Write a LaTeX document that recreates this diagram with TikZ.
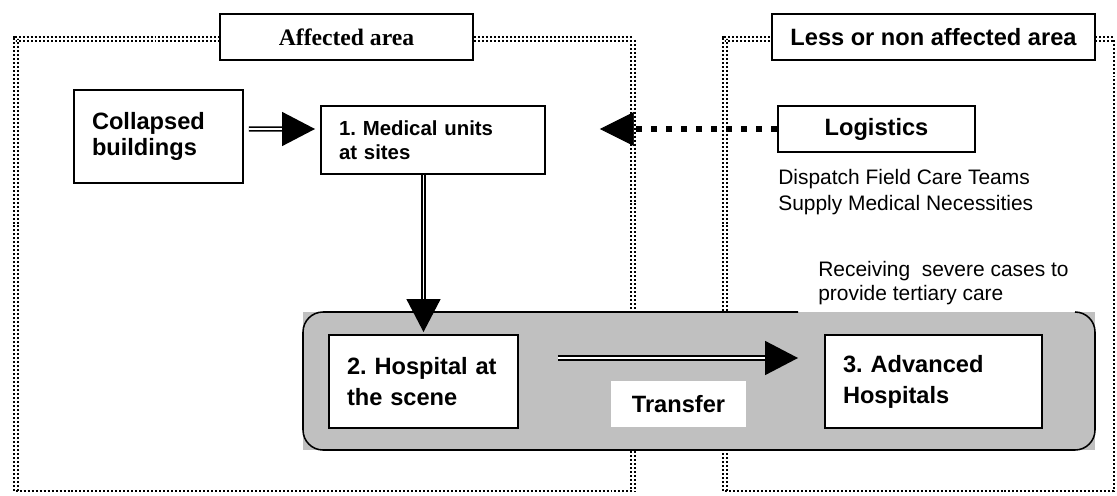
\documentclass[tikz,border=0pt]{standalone}
\usepackage{fontspec}
\setmainfont{Liberation Sans}
\newfontfamily\timesbold{Liberation Serif}
\usetikzlibrary{arrows.meta}
\definecolor{panelgray}{RGB}{192,192,192}

\begin{document}
\frenchspacing
\begin{tikzpicture}[
  box/.style={draw=black, line width=1.4pt, fill=white, align=left, inner xsep=4.5mm, font=\fontsize{16.8}{18.5}\selectfont\bfseries},
  head/.style={box, align=center, minimum height=11.5mm},
  dbl/.style={double, double distance=1.4pt, line width=1.1pt, -{Triangle[length=8.25mm, width=8.5mm]}},
  dots/.style={line width=4.3pt, dash pattern=on 4.3pt off 6.4pt, -{Triangle[length=8.5mm, width=8.5mm, line width=0.5pt]}},
  frm/.style={line width=1.42pt, dash pattern=on 1.42pt off 1.42pt},
  frmd/.style={frm, double, double distance=1.42pt},
  note/.style={font=\fontsize{14.9}{17.8}\selectfont, align=left, inner sep=0pt, anchor=base west}
]
\useasboundingbox (0,0) rectangle (27.925,12.375);

% the two areas
\draw[frmd] (0.39,0.1) |- (15.82,11.4) -- (15.82,0.1);
\draw[frm] (0.39,0.1) -- (15.82,0.1);
\draw[frmd] (18.125,0.1) |- (27.85,11.4);
\draw[frm] (18.125,0.1) -| (27.85,11.4);

% grey band of the hospitals
\fill[panelgray] (7.575,1.125) rectangle (27.375,4.575);
\draw[line width=1.1pt, rounded corners=5mm] (19.95,4.575) -| (7.575,1.125) -| (27.375,4.575) -- (26.875,4.575);

\node[head, minimum width=6.325cm, font=\fontsize{16.8}{18.5}\selectfont\timesbold\bfseries] (aff) at (8.6625,11.45) {Affected area};
\node[head, minimum width=8.075cm] (less) at (23.3375,11.45) {Less or non affected area};

\node[box, text width=3.325cm, minimum height=2.325cm] (coll) at (3.9625,8.9625) {Collapsed\\buildings};
\node[box, text width=4.7cm, minimum height=1.7cm, font=\fontsize{14.5}{17}\selectfont\bfseries] (med) at (10.825,8.875) {1. Medical units\\at sites};
\node[head, minimum width=4.925cm] (logi) at (21.9125,9.15) {Logistics};
\node[note] (disp) at (19.45,7.125) {Dispatch Field Care Teams\\Supply Medical Necessities};
\node[note, font=\fontsize{14.9}{17}\selectfont] (recv) at (20.45,4.875) {Receiving~ severe cases to\\provide tertiary care};

\node[box, text width=3.825cm, minimum height=2.325cm, font=\fontsize{16.8}{22}\selectfont\bfseries] (hosp) at (10.5875,2.8375) {2. Hospital at\\the scene};
\node[box, text width=4.525cm, minimum height=2.325cm, font=\fontsize{16.8}{22}\selectfont\bfseries] (adv) at (23.3375,2.8375) {3. Advanced\\Hospitals};
\node[box, draw=none, align=center, minimum width=3.375cm, minimum height=1.15cm] (trans) at (16.9625,2.275) {Transfer};

\draw[dbl, shorten <=1.25mm, shorten >=1.25mm] ([yshift=1.875mm]coll.east) -- ([yshift=2.75mm]med.west);
\draw[dots] (logi.west) -- ([xshift=13.5mm]med.east |- logi.west);
\draw[dbl, shorten >=0.5mm] (med.south -| hosp.north) -- (hosp.north);
\draw[dbl] ([xshift=9.75mm, yshift=5.875mm]hosp.east) -- ([xshift=-6.5mm, yshift=5.875mm]adv.west);
\end{tikzpicture}
\end{document}
